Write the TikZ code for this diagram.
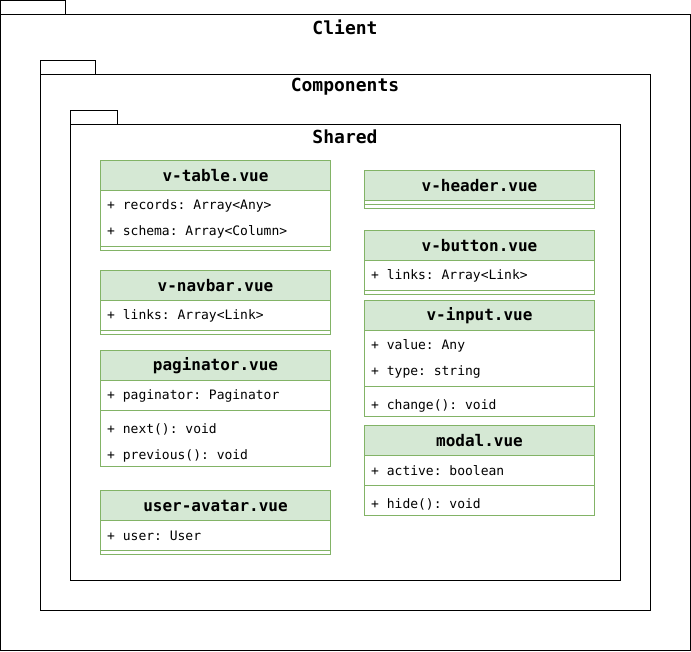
\documentclass[tikz,border=0pt]{standalone}
\usepackage{fontspec}
\setmonofont{DejaVu Sans Mono}
\usetikzlibrary{positioning}
\definecolor{umlfill}{RGB}{213, 232, 212}
\definecolor{umlline}{RGB}{130, 179, 102}

\begin{document}
\begin{tikzpicture}[
        x=1pt, y=-1pt,
        pkg/.style={draw, line width=1pt},
        pkgtitle/.style={inner sep=0pt, font=\ttfamily\bfseries\fontsize{18}{20}\selectfont},
        classbody/.style={draw=umlline, fill=white, line width=1pt},
        head/.style={draw=umlline, fill=umlfill, line width=1pt, anchor=north west, outer sep=0pt, minimum width=230pt, minimum height=30pt, inner sep=0pt, font=\ttfamily\bfseries\fontsize{16}{18}\selectfont},
        field/.style={anchor=west, inner sep=0pt, yshift=-1.5pt, font=\ttfamily\fontsize{13}{15}\selectfont},
        sep/.style={draw=umlline, line width=1pt}
    ]
        \useasboundingbox (0,0) rectangle (691,651);

        % Packages
        \draw[pkg] (0.5,0.5) rectangle (65,14.5);
        \draw[pkg] (0.5,14.5) rectangle (690.5,650.5);
        \node[pkgtitle] (client) at (345,27) {Client};
        \draw[pkg] (40.5,60.5) rectangle (95.5,74.5);
        \draw[pkg] (40.5,74.5) rectangle (650.5,610.5);
        \node[pkgtitle] (components) at (345,87) {Components};
        \draw[pkg] (70.5,110.5) rectangle (117.5,124.5);
        \draw[pkg] (70.5,124.5) rectangle (620.5,580.5);
        \node[pkgtitle] (shared) at (345,137) {Shared};

        % Left column
        \draw[classbody] (100.5,160.5) rectangle (330.5,250.5);
        \node[head] (vtable) at (100.5,160.5) {v-table.vue};
        \node[field] (vtable-records) at (107,204) {+ records: Array<Any>};
        \node[field] (vtable-schema) at (107,230) {+ schema: Array<Column>};
        \draw[sep] (100.5,246.5) -- (330.5,246.5);

        \draw[classbody] (100.5,270.5) rectangle (330.5,334.5);
        \node[head] (vnavbar) at (100.5,270.5) {v-navbar.vue};
        \node[field] (vnavbar-links) at (107,314) {+ links: Array<Link>};
        \draw[sep] (100.5,330.5) -- (330.5,330.5);

        \draw[classbody] (100.5,350.5) rectangle (330.5,466.5);
        \node[head] (paginator) at (100.5,350.5) {paginator.vue};
        \node[field] (paginator-pag) at (107,394) {+ paginator: Paginator};
        \draw[sep] (100.5,410.5) -- (330.5,410.5);
        \node[field] (paginator-next) at (107,428) {+ next(): void};
        \node[field] (paginator-prev) at (107,454) {+ previous(): void};

        \draw[classbody] (100.5,490.5) rectangle (330.5,554.5);
        \node[head] (avatar) at (100.5,490.5) {user-avatar.vue};
        \node[field] (avatar-user) at (107,534) {+ user: User};
        \draw[sep] (100.5,550.5) -- (330.5,550.5);

        % Right column
        \draw[classbody] (364.5,170.5) rectangle (594.5,208.5);
        \node[head] (vheader) at (364.5,170.5) {v-header.vue};
        \draw[sep] (364.5,204.5) -- (594.5,204.5);

        \draw[classbody] (364.5,230.5) rectangle (594.5,294.5);
        \node[head] (vbutton) at (364.5,230.5) {v-button.vue};
        \node[field] (vbutton-links) at (371,274) {+ links: Array<Link>};
        \draw[sep] (364.5,290.5) -- (594.5,290.5);

        \draw[classbody] (364.5,300.5) rectangle (594.5,416.5);
        \node[head] (vinput) at (364.5,300.5) {v-input.vue};
        \node[field] (vinput-value) at (371,344) {+ value: Any};
        \node[field] (vinput-type) at (371,370) {+ type: string};
        \draw[sep] (364.5,386.5) -- (594.5,386.5);
        \node[field] (vinput-change) at (371,404) {+ change(): void};

        \draw[classbody] (364.5,425.5) rectangle (594.5,515.5);
        \node[head] (modal) at (364.5,425.5) {modal.vue};
        \node[field] (modal-active) at (371,469) {+ active: boolean};
        \draw[sep] (364.5,485.5) -- (594.5,485.5);
        \node[field] (modal-hide) at (371,503) {+ hide(): void};
    \end{tikzpicture}
\end{document}
